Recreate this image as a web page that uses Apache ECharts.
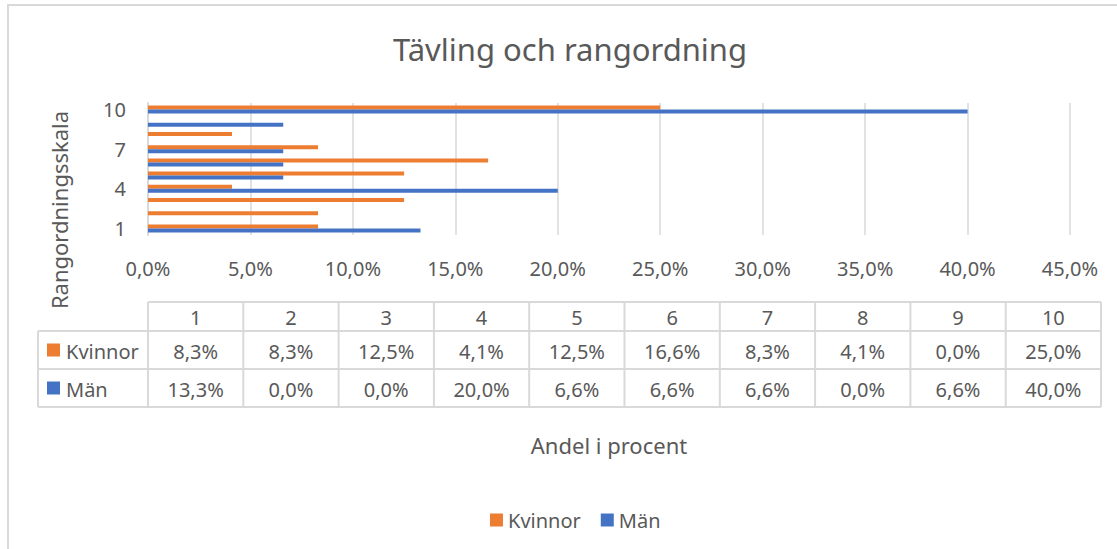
<!DOCTYPE html>
<html>
<head>
    <meta charset="utf-8">
    <title>Tävling och rangordning</title>
    <script src="https://cdn.jsdelivr.net/npm/echarts@6/dist/echarts.min.js"></script>
</head>
<body style="margin:0">
    <div id="main" style="width:1117px;height:549px;"></div>
    <script type="text/javascript">
    // Data
    var categories = ['1','2','3','4','5','6','7','8','9','10'];
    var kvinnor = [8.3, 8.3, 12.5, 4.1, 12.5, 16.6, 8.3, 4.1, 0.0, 25.0];
    var man = [13.3, 0.0, 0.0, 20.0, 6.6, 6.6, 6.6, 0.0, 6.6, 40.0];
    var seriesNames = ['Kvinnor', 'Män'];
    var colors = ['#ed7d31', '#4472c4'];

    var font = '"Noto Sans", "Open Sans", sans-serif';
    var textColor = '#595959';
    var lineColor = '#d9d9d9';

    function pct(v) {
      return v.toFixed(1).replace('.', ',') + '%';
    }

    // data table under the plot
    var tLeft = 148, tRight = 1101, tFirst = 38;
    var rowLines = [302, 331, 369, 407];
    var colW = (tRight - tLeft) / categories.length;
    var table = [];
    function hline(x1, x2, y) {
      table.push({ type: 'line', shape: { x1: x1, y1: y, x2: x2, y2: y }, style: { stroke: lineColor, lineWidth: 2 }, silent: true });
    }
    function vline(x, y1, y2) {
      table.push({ type: 'line', shape: { x1: x, y1: y1, x2: x, y2: y2 }, style: { stroke: lineColor, lineWidth: 2 }, silent: true });
    }
    function cellText(x, y, s, align) {
      table.push({ type: 'text', x: x, y: y, silent: true,
        style: { text: s, fill: textColor, font: '20px ' + font, align: align || 'center', verticalAlign: 'middle' } });
    }
    hline(tLeft, tRight, rowLines[0]);
    hline(tFirst, tRight, rowLines[1]);
    hline(tFirst, tRight, rowLines[2]);
    hline(tFirst, tRight, rowLines[3]);
    vline(tFirst, rowLines[1], rowLines[3]);
    for (var c = 0; c <= categories.length; c++) {
      vline(tLeft + c * colW, rowLines[0], rowLines[3]);
    }
    var rows = [kvinnor, man];
    for (var i = 0; i < categories.length; i++) {
      var cx = tLeft + (i + 0.5) * colW;
      cellText(cx, (rowLines[0] + rowLines[1]) / 2 + 1, categories[i]);
      for (var r = 0; r < rows.length; r++) {
        cellText(cx, (rowLines[r + 1] + rowLines[r + 2]) / 2 + 1, pct(rows[r][i]));
      }
    }
    for (var r = 0; r < rows.length; r++) {
      var cy = (rowLines[r + 1] + rowLines[r + 2]) / 2;
      table.push({ type: 'rect', shape: { x: 47, y: cy - 6.5, width: 13, height: 13 }, style: { fill: colors[r] }, silent: true });
      cellText(66, cy + 1, seriesNames[r], 'left');
    }

    var myChart = echarts.init(document.getElementById('main'), null, { renderer: 'svg' });
    var option = {
      backgroundColor: '#fff',
      animation: false,
      textStyle: { fontFamily: font },
      grid: { left: 148, right: 47, top: 103, height: 132 },
      legend: {
        data: seriesNames,
        left: 485,
        top: 505,
        itemWidth: 13,
        itemHeight: 13,
        itemGap: 20,
        icon: 'rect',
        textStyle: { color: textColor, fontSize: 20, fontFamily: font }
      },
      xAxis: {
        type: 'value',
        min: 0,
        max: 45,
        interval: 5,
        axisLine: { show: false },
        axisTick: { show: false },
        splitLine: { lineStyle: { color: lineColor, width: 1.5 } },
        axisLabel: { color: textColor, fontSize: 20, margin: 23, formatter: function (v) { return pct(v); } }
      },
      yAxis: {
        type: 'category',
        data: categories,
        axisTick: { show: false },
        axisLine: { lineStyle: { color: lineColor, width: 2 } },
        axisLabel: { color: textColor, fontSize: 20, interval: 2, margin: 22 }
      },
      series: [{
        name: seriesNames[0],
        type: 'bar',
        data: kvinnor,
        barWidth: 4,
        barGap: '0%',
        itemStyle: { color: colors[0] }
      }, {
        name: seriesNames[1],
        type: 'bar',
        data: man,
        barWidth: 4,
        barGap: '0%',
        itemStyle: { color: colors[1] }
      }],
      graphic: [
        { type: 'rect', shape: { x: 8, y: 5, width: 1200, height: 700 }, style: { fill: 'none', stroke: lineColor, lineWidth: 2 }, silent: true },
        { type: 'text', x: 570, y: 49, silent: true,
          style: { text: 'Tävling och rangordning', fill: textColor, font: '31px ' + font, align: 'center', verticalAlign: 'middle' } },
        { type: 'text', x: 59, y: 210, rotation: Math.PI / 2, silent: true,
          style: { text: 'Rangordningsskala', fill: textColor, font: '22px ' + font, align: 'center', verticalAlign: 'middle' } },
        { type: 'text', x: 609, y: 445, silent: true,
          style: { text: 'Andel i procent', fill: textColor, font: '22px ' + font, align: 'center', verticalAlign: 'middle' } }
      ].concat(table)
    };
    myChart.setOption(option);
    </script>
</body>
</html>
